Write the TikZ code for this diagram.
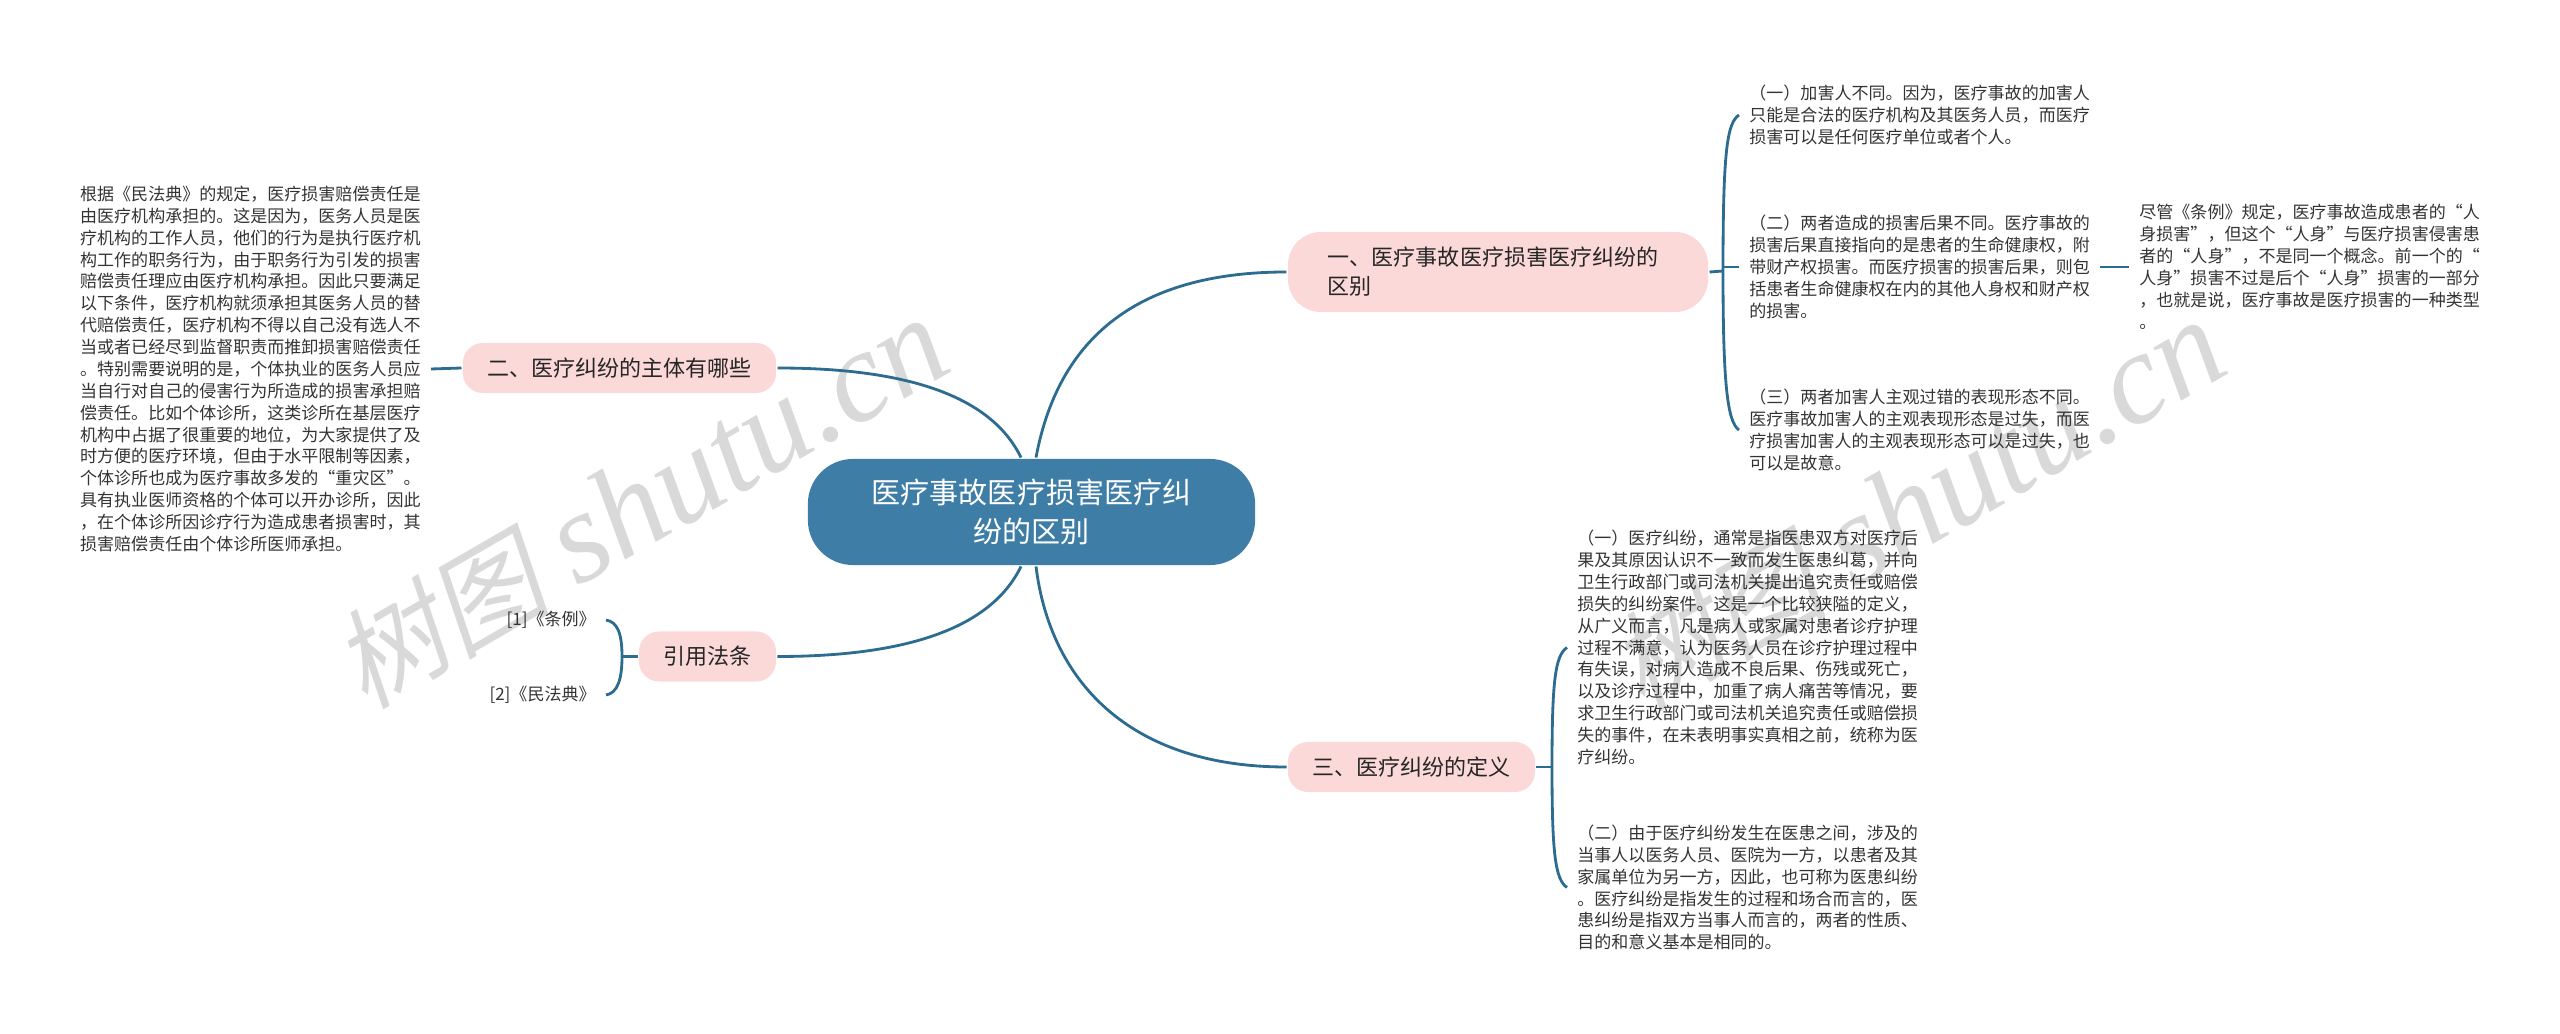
\documentclass[tikz,border=0pt]{standalone}
\usepackage{fontspec}
\setmainfont{Noto Sans CJK SC}
\newfontfamily\markcjk[FakeSlant=0.2]{Noto Sans CJK SC}
\newfontfamily\marklatin{Liberation Serif}
\definecolor{rootblue}{HTML}{3E7EA6}
\definecolor{linkblue}{HTML}{2D6C91}
\definecolor{branchpink}{HTML}{FBD9D8}
\definecolor{marktext}{HTML}{D9D9D9}
\definecolor{leaftext}{HTML}{333333}
\newcommand{\marktitle}{{\markcjk\fontsize{31pt}{31pt}\selectfont 树图} {\marklatin\itshape\fontsize{37pt}{37pt}\selectfont shutu.cn}}
\begin{document}
\begin{tikzpicture}[x=0.01cm, y=-0.01cm, thick,
  rootnode/.style={fill=rootblue, text=white, rounded corners=.45cm, inner sep=0pt, minimum width=4.47cm, minimum height=1.06cm, align=center, font=\fontsize{8.25pt}{11.1pt}\selectfont},
  branchnode/.style={fill=branchpink, text=black!85, rounded corners=.2cm, inner sep=0pt, minimum height=.5cm, align=left, font=\fontsize{6.26pt}{8.25pt}\selectfont},
  leafnode/.style={text=leaftext, inner sep=.09cm, align=left, font=\fontsize{4.84pt}{6.22pt}\selectfont},
  refnode/.style={text=leaftext, inner sep=.09cm, font=\fontsize{4.84pt}{6.22pt}\selectfont},
  link/.style={draw=linkblue},
  wmark/.style={text=marktext, inner sep=0pt, anchor=base, rotate=30, font=\fontsize{34.8pt}{34.8pt}\selectfont}]
\useasboundingbox (0,0) rectangle (2560,1034);

\node[wmark] (markleft) at (661,540) {\marktitle};
\node[wmark] (markright) at (1938,542) {\marktitle};

\node[rootnode] (root) at (1031.5,512) {医疗事故医疗损害医疗纠\\纷的区别};

\node[branchnode, rounded corners=.33cm, minimum width=4.2cm, minimum height=.8cm, text width=3.4cm] (yi) at (1498,272) {一、医疗事故医疗损害医疗纠纷的\\区别};
\node[branchnode, minimum width=3.13cm] (er) at (619.5,368) {二、医疗纠纷的主体有哪些};
\node[branchnode, minimum width=2.47cm] (san) at (1411.5,767) {三、医疗纠纷的定义};
\node[branchnode, minimum width=1.37cm] (yin) at (707.5,656.5) {引用法条};

\node[leafnode, anchor=west] (yia) at (1739,115) {（一）加害人不同。因为，医疗事故的加害人\\
只能是合法的医疗机构及其医务人员，而医疗\\
损害可以是任何医疗单位或者个人。};
\node[leafnode, anchor=west] (yib) at (1739,267) {（二）两者造成的损害后果不同。医疗事故的\\
损害后果直接指向的是患者的生命健康权，附\\
带财产权损害。而医疗损害的损害后果，则包\\
括患者生命健康权在内的其他人身权和财产权\\
的损害。};
\node[leafnode, anchor=west] (yic) at (1739,430) {（三）两者加害人主观过错的表现形态不同。\\
医疗事故加害人的主观表现形态是过失，而医\\
疗损害加害人的主观表现形态可以是过失，也\\
可以是故意。};
\node[leafnode, anchor=west] (yid) at (2129,267) {尽管《条例》规定，医疗事故造成患者的“人\\
身损害”，但这个“人身”与医疗损害侵害患\\
者的“人身”，不是同一个概念。前一个的“\\
人身”损害不过是后个“人身”损害的一部分\\
，也就是说，医疗事故是医疗损害的一种类型\\
。};

\node[leafnode, anchor=east] (era) at (431,369) {根据《民法典》的规定，医疗损害赔偿责任是\\
由医疗机构承担的。这是因为，医务人员是医\\
疗机构的工作人员，他们的行为是执行医疗机\\
构工作的职务行为，由于职务行为引发的损害\\
赔偿责任理应由医疗机构承担。因此只要满足\\
以下条件，医疗机构就须承担其医务人员的替\\
代赔偿责任，医疗机构不得以自己没有选人不\\
当或者已经尽到监督职责而推卸损害赔偿责任\\
。特别需要说明的是，个体执业的医务人员应\\
当自行对自己的侵害行为所造成的损害承担赔\\
偿责任。比如个体诊所，这类诊所在基层医疗\\
机构中占据了很重要的地位，为大家提供了及\\
时方便的医疗环境，但由于水平限制等因素，\\
个体诊所也成为医疗事故多发的“重灾区”。\\
具有执业医师资格的个体可以开办诊所，因此\\
，在个体诊所因诊疗行为造成患者损害时，其\\
损害赔偿责任由个体诊所医师承担。};

\node[leafnode, anchor=west] (sana) at (1567,647.5) {（一）医疗纠纷，通常是指医患双方对医疗后\\
果及其原因认识不一致而发生医患纠葛，并向\\
卫生行政部门或司法机关提出追究责任或赔偿\\
损失的纠纷案件。这是一个比较狭隘的定义，\\
从广义而言，凡是病人或家属对患者诊疗护理\\
过程不满意，认为医务人员在诊疗护理过程中\\
有失误，对病人造成不良后果、伤残或死亡，\\
以及诊疗过程中，加重了病人痛苦等情况，要\\
求卫生行政部门或司法机关追究责任或赔偿损\\
失的事件，在未表明事实真相之前，统称为医\\
疗纠纷。};
\node[leafnode, anchor=west] (sanb) at (1567,887.5) {（二）由于医疗纠纷发生在医患之间，涉及的\\
当事人以医务人员、医院为一方，以患者及其\\
家属单位为另一方，因此，也可称为医患纠纷\\
。医疗纠纷是指发生的过程和场合而言的，医\\
患纠纷是指双方当事人而言的，两者的性质、\\
目的和意义基本是相同的。};

\node[refnode, anchor=east] (yina) at (606,620) {[1]《条例》};
\node[refnode, anchor=east] (yinb) at (606,695) {[2]《民法典》};

\coordinate (yibr) at (1723,271);
\coordinate (sanbr) at (1552,767);
\coordinate (yinbr) at (622,656.5);

\draw[link] (er.east) .. controls +(124,0) and +(-31,-64) .. ([xshift=-.105cm]root.north);
\draw[link] (yin.east) .. controls +(124,0) and +(-31,64) .. ([xshift=-.105cm]root.south);
\draw[link] ([xshift=.045cm]root.north) .. controls +(24,-129) and +(-138,0) .. (yi.west);
\draw[link] ([xshift=.045cm]root.south) .. controls +(14,114) and +(-158,0) .. (san.west);

\draw[link] (yi.east) -- (yibr);
\draw[link] (yia.west) .. controls +(-12,8) and +(0,-120) .. (yibr) .. controls +(0,110) and +(-12,-8) .. (yic.west);
\draw[link] (yib.west) -- (yib.west -| yibr);
\draw[link] (yib.east) -- (yid.west);

\draw[link] (era.east) -- (er.west);

\draw[link] (san.east) -- (sanbr);
\draw[link] (sana.west) .. controls +(-12,8) and +(0,-85) .. (sanbr) .. controls +(0,85) and +(-12,-8) .. (sanb.west);

\draw[link] (yin.west) -- (yinbr);
\draw[link] (yina.east) .. controls +(12,2) and +(0,-22) .. (yinbr) .. controls +(0,22) and +(12,-2) .. (yinb.east);
\end{tikzpicture}
\end{document}
